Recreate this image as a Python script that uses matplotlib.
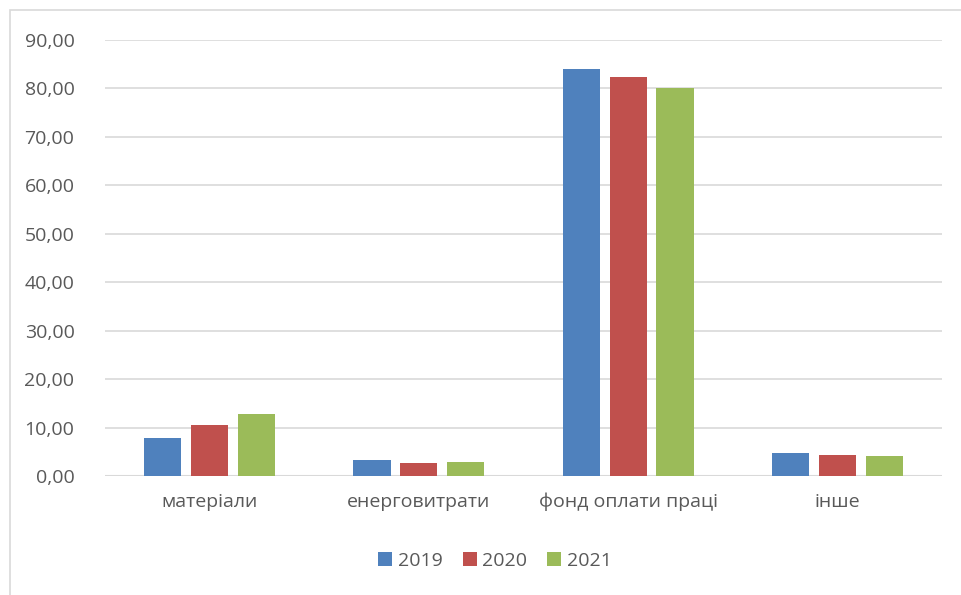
import numpy as np
import matplotlib.pyplot as plt
from matplotlib.patches import Rectangle

categories = ['матеріали', 'енерговитрати', 'фонд оплати праці', 'інше']
years = ['2019', '2020', '2021']
v2019 = [7.8, 3.2, 84.1, 4.8]
v2020 = [10.5, 2.75, 82.3, 4.3]
v2021 = [12.9, 2.9, 80.0, 4.1]
colors = ['#4f81bd', '#c0504d', '#9bbb59']

plt.rcParams['font.family'] = ['Open Sans', 'DejaVu Sans']

fig = plt.figure(figsize=(9.62, 5.95), dpi=100)
ax = fig.add_axes([105 / 962, 1 - 476 / 595, 837 / 962, 436 / 595])

# light frame around the chart, running off the right and bottom edges
fig.patches.append(Rectangle((10 / 962, -0.05), 1.0, 1 - 10 / 595 + 0.05,
                             transform=fig.transFigure, fill=False,
                             edgecolor='#d9d9d9', linewidth=1.2))

x = np.arange(len(categories))
w = 0.178
step = 0.224
for i, (vals, yr) in enumerate(zip([v2019, v2020, v2021], years)):
    ax.bar(x + (i - 1) * step, vals, width=w, color=colors[i], label=yr, zorder=3)

ax.set_xlim(-0.5, len(categories) - 0.5)
ax.set_ylim(0, 90)
ax.set_yticks(np.arange(0, 91, 10))
ax.set_yticklabels([f'{v:.2f}'.replace('.', ',') for v in np.arange(0, 91, 10)])
ax.set_xticks(x)
ax.set_xticklabels(categories)
ax.grid(axis='y', color='#d9d9d9', linewidth=1.2, zorder=0)
for s in ax.spines.values():
    s.set_visible(False)
ax.axhline(0, color='#d9d9d9', linewidth=1.5, zorder=2)
ax.tick_params(length=0, labelsize=14, colors='#595959')
ax.tick_params(axis='y', pad=22)
ax.tick_params(axis='x', pad=12)

fig.legend(loc='center', bbox_to_anchor=(495 / 962, 1 - 561 / 595), ncol=3,
           frameon=False, fontsize=14, handlelength=0.72, handleheight=0.72,
           columnspacing=1.0, handletextpad=0.3, labelcolor='#595959')

fig.savefig('out.png', dpi=100)
